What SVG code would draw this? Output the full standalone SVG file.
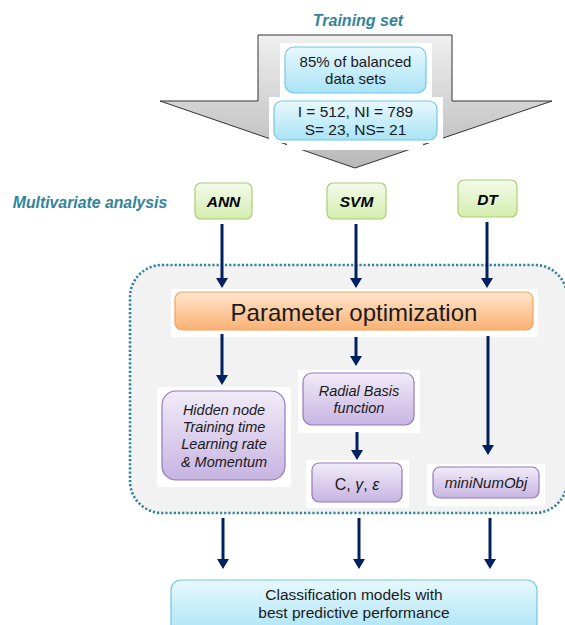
<svg xmlns="http://www.w3.org/2000/svg" width="565" height="625" viewBox="0 0 565 625">
<defs>
<linearGradient id="gGray" x1="0" y1="0" x2="0" y2="1"><stop offset="0" stop-color="#f0f0f0"/><stop offset="1" stop-color="#b8b8b8"/></linearGradient>
<linearGradient id="gBlue" x1="0" y1="0" x2="0" y2="1"><stop offset="0" stop-color="#e8f8fd"/><stop offset="1" stop-color="#a9e3f6"/></linearGradient>
<linearGradient id="gGreen" x1="0" y1="0" x2="0" y2="1"><stop offset="0" stop-color="#f4fbea"/><stop offset="1" stop-color="#d3edae"/></linearGradient>
<linearGradient id="gPurple" x1="0" y1="0" x2="0" y2="1"><stop offset="0" stop-color="#f1ecf8"/><stop offset="1" stop-color="#c7b4e2"/></linearGradient>
<linearGradient id="gOrange" x1="0" y1="0" x2="0" y2="1"><stop offset="0" stop-color="#fee6cd"/><stop offset="1" stop-color="#fbb173"/></linearGradient>
<marker id="ah" markerUnits="userSpaceOnUse" markerWidth="12" markerHeight="12" refX="2" refY="6" orient="auto"><path d="M0,0 L10,6 L0,12 z" fill="#002060"/></marker>
</defs>
<style>
text{font-family:"Liberation Sans",Arial,sans-serif;fill:#1a1a1a;text-anchor:middle}
.lbl{fill:#31849b;font-weight:bold;font-style:italic}
.blue{fill:url(#gBlue);stroke:#72c7e2;stroke-width:1.2}
.green{fill:url(#gGreen);stroke:#a9cf72;stroke-width:1.2}
.purple{fill:url(#gPurple);stroke:#9479bb;stroke-width:1.2}
.orange{fill:url(#gOrange);stroke:#f0a35e;stroke-width:1.2}
.bg{fill:#ffffff}
.model{font-weight:bold;font-style:italic;font-size:15.5px;fill:#000}
.it{font-style:italic;font-size:14.5px}
.conn line{stroke:#002060;stroke-width:3;marker-end:url(#ah)}
</style>
<text class="lbl" x="358" y="26" font-size="16">Training set</text>
<g id="trainArrow">
<polygon points="258,35 452,35 452,101 552,101 355,168 160,101 258,101" fill="url(#gGray)" stroke="#333" stroke-width="1"/>
<rect class="bg" x="280" y="43" width="152" height="54"/>
<rect class="bg" x="269" y="97" width="174" height="46"/>
<rect class="bg" x="287" y="140" width="136" height="10"/>
</g>
<g id="box85">
<rect class="blue" x="285" y="47" width="141" height="46" rx="9"/>
<text x="355.5" y="67" font-size="15">85% of balanced</text>
<text x="355.5" y="84" font-size="15">data sets</text>
</g>
<g id="boxCounts">
<rect class="blue" x="274" y="101" width="163" height="39" rx="8"/>
<text x="355.5" y="117" font-size="15.5">I = 512, NI = 789</text>
<text x="355.5" y="135" font-size="15.5">S= 23, NS= 21</text>
</g>
<text class="lbl" x="90" y="208" font-size="15.8">Multivariate analysis</text>
<g id="ann">
<rect class="bg" x="197" y="217" width="53" height="5"/>
<rect class="green" x="195" y="183" width="57" height="36" rx="6"/>
<text class="model" x="223.5" y="207">ANN</text>
</g>
<g id="svm">
<rect class="bg" x="330" y="217" width="54" height="5"/>
<rect class="green" x="327" y="183" width="59" height="36" rx="6"/>
<text class="model" x="356.5" y="207">SVM</text>
</g>
<g id="dt">
<rect class="bg" x="461" y="215" width="54" height="5"/>
<rect class="green" x="458" y="180" width="59" height="37" rx="6"/>
<text class="model" x="487.5" y="205">DT</text>
</g>
<g id="optRegion">
<rect x="130" y="265" width="437" height="248" rx="32" fill="#f2f2f2" stroke="#31859c" stroke-width="2.6" stroke-dasharray="2.2 2"/>
</g>
<g id="paramOpt">
<rect class="bg" x="171" y="289" width="367" height="48"/>
<rect class="orange" x="175" y="292" width="358" height="38" rx="7"/>
<text x="354" y="321" font-size="24">Parameter optimization</text>
</g>
<g id="annParams">
<rect class="bg" x="157" y="387" width="134" height="100"/>
<rect class="purple" x="162" y="391" width="123" height="89" rx="14"/>
<text class="it" x="224" y="415">Hidden node</text>
<text class="it" x="224" y="432">Training time</text>
<text class="it" x="224" y="449">Learning rate</text>
<text class="it" x="224" y="467">&amp; Momentum</text>
</g>
<g id="rbf">
<rect class="bg" x="298" y="370" width="122" height="63"/>
<rect class="purple" x="303" y="373" width="111" height="52" rx="9"/>
<text class="it" x="359" y="396">Radial Basis</text>
<text class="it" x="359" y="413">function</text>
</g>
<g id="cge">
<rect class="bg" x="306" y="460" width="103" height="48"/>
<rect class="purple" x="312" y="463" width="90" height="39" rx="7"/>
<text x="357" y="490" font-size="16">C, <tspan font-style="italic">γ</tspan>, <tspan font-style="italic">ε</tspan></text>
</g>
<g id="mini">
<rect class="bg" x="427" y="464" width="118" height="42"/>
<rect class="purple" x="433" y="467" width="106" height="31" rx="7"/>
<text x="486" y="488" font-size="15" font-style="italic">miniNumObj</text>
</g>
<g id="result">
<rect class="blue" x="171" y="580" width="366" height="56" rx="10"/>
<text x="354" y="600" font-size="15.5">Classification models with</text>
<text x="354" y="618" font-size="15.5">best predictive performance</text>
</g>
<g id="connectors" class="conn">
<line x1="222" y1="224" x2="222" y2="280"/>
<line x1="356" y1="224" x2="356" y2="280"/>
<line x1="487" y1="222" x2="487" y2="280"/>
<line x1="222" y1="334" x2="222" y2="377"/>
<line x1="356" y1="337" x2="356" y2="358"/>
<line x1="488" y1="336" x2="488" y2="447"/>
<line x1="357" y1="432" x2="357" y2="452"/>
<line x1="223" y1="518" x2="223" y2="561"/>
<line x1="359" y1="518" x2="359" y2="561"/>
<line x1="490" y1="518" x2="490" y2="561"/>
</g>
</svg>
